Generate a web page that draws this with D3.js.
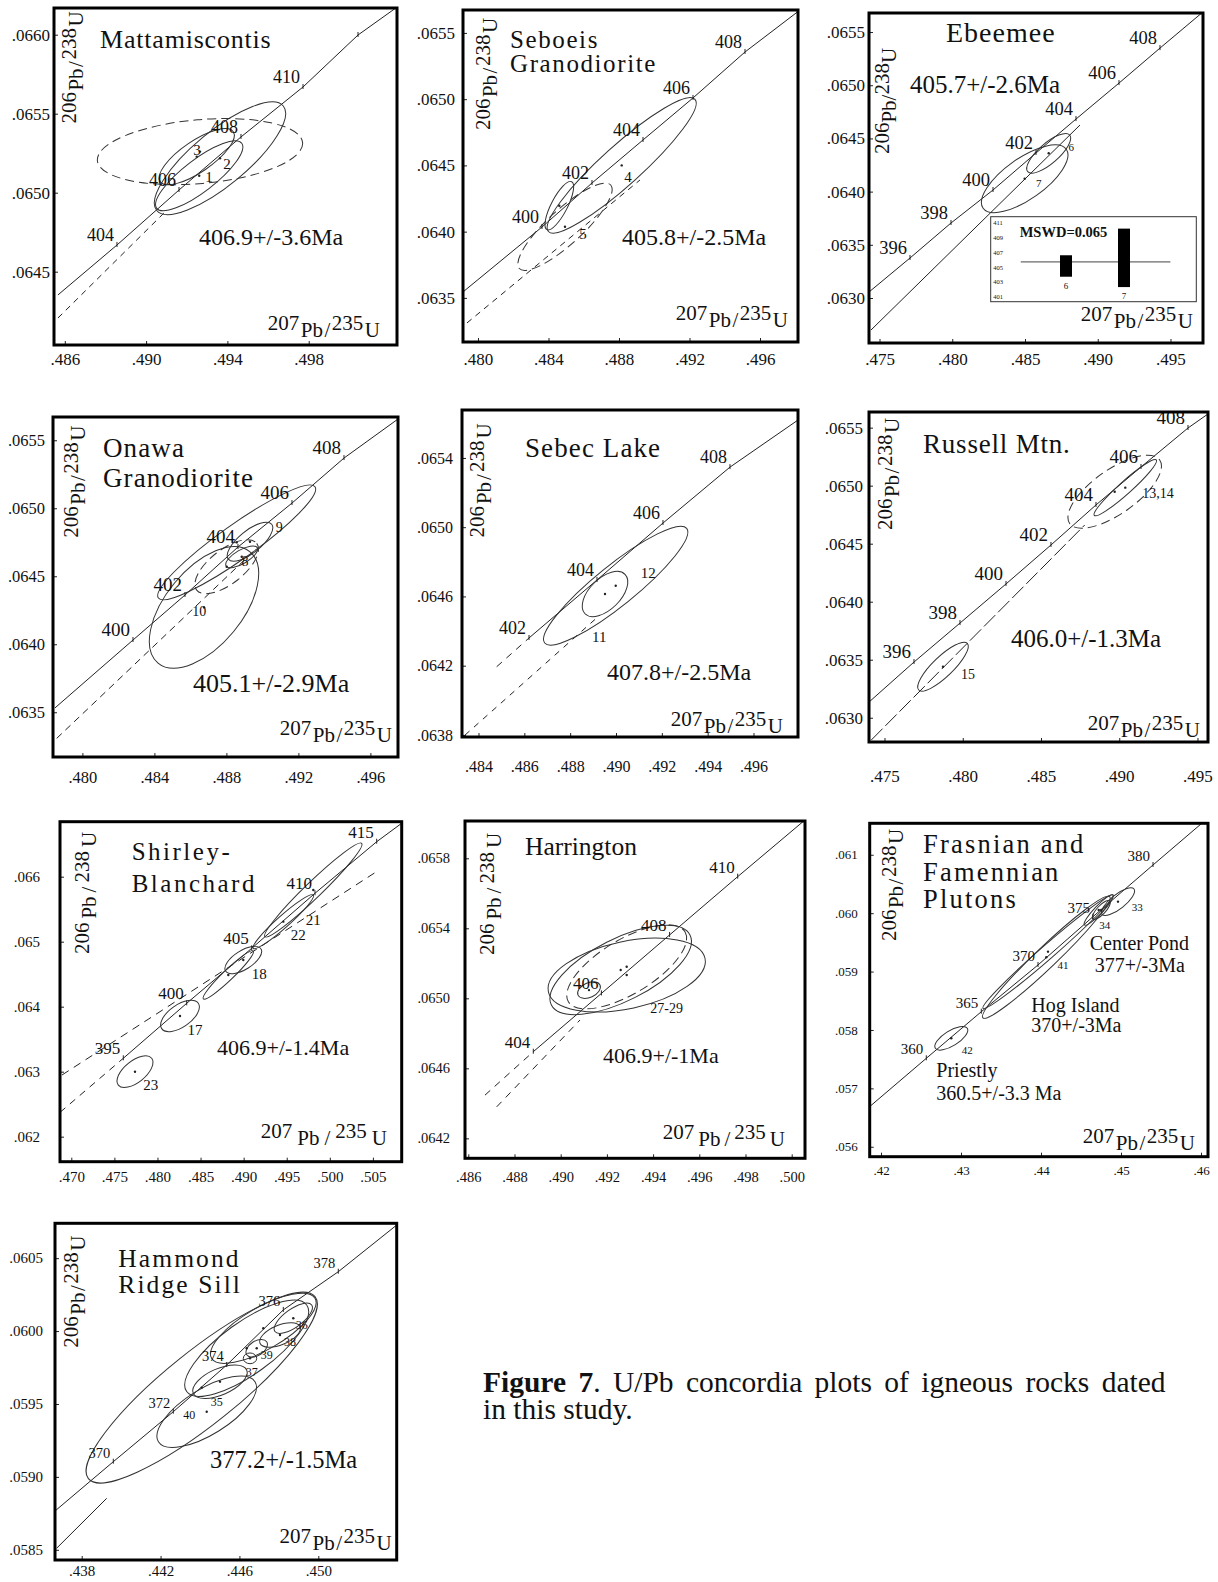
<!DOCTYPE html>
<html>
<head>
<meta charset="utf-8">
<script src="https://cdn.jsdelivr.net/npm/d3@7"></script>
<style>
  body { margin: 0; background: #fff; }
  svg text { font-family: "Liberation Serif", "Times New Roman", serif; fill: #111; }
</style>
</head>
<body>
<svg id="fig" width="1218" height="1582"></svg>
<script>
// ---------------- data ----------------
// concordia points: [age Ma, 207Pb/235U, 206Pb/238U]
// ellipses: [cx, cy, tipX, tipY, minor/major]
// labels: [text, x, y]

// Mattamiscontis
const mattaTitle = ["Mattamiscontis"];
const mattaAge = ["406.9+/-3.6Ma"];
const mattaXDomain = [0.485469, 0.502344];
const mattaYDomain = [0.064036, 0.066169];
const mattaXTicks = [0.486, 0.490, 0.494, 0.498];
const mattaYTicks = [0.0645, 0.0650, 0.0655, 0.0660];
const mattaConcordia = [[404, 0.488568, 0.064669], [406, 0.491619, 0.065017], [408, 0.494669, 0.065353], [410, 0.49772, 0.065669], [412, 0.500426, 0.065998]];
const mattaConcordiaEnds = [[0.485665, 0.064353], [0.502492, 0.066188]];
const mattaEnvelope = [[0.485665, 0.064207], [0.49093, 0.064878]];
const mattaEllipses = [
  [0.493636, 0.065218, 0.49675, 0.065549, 0.33],
  [0.492613, 0.065107, 0.494704, 0.065313, 0.3],
  [0.492652, 0.06526, 0.4977, 0.065317, 0.31],
  [0.49249, 0.065228, 0.49429, 0.065386, 0.35]
];
const mattaLabels = [["3", 0.492504, 0.065271], ["2", 0.49398, 0.065182], ["1", 0.493095, 0.0651]];

// Seboeis Granodiorite
const seboeisTitle = ["Seboeis", "Granodiorite"];
const seboeisAge = ["405.8+/-2.5Ma"];
const seboeisXDomain = [0.479149, 0.498156];
const seboeisYDomain = [0.063167, 0.065673];
const seboeisXTicks = [0.480, 0.484, 0.488, 0.492, 0.496];
const seboeisYTicks = [0.0635, 0.0640, 0.0645, 0.0650, 0.0655];
const seboeisConcordia = [[400, 0.483631, 0.064035], [402, 0.486468, 0.064367], [404, 0.489362, 0.064692], [406, 0.492199, 0.065009], [408, 0.495149, 0.065356]];
const seboeisConcordiaEnds = [[0.479149, 0.063545], [0.49827, 0.065673]];
const seboeisEnvelope = [[0.479376, 0.063311], [0.489191, 0.06439]];
const seboeisEllipses = [
  [0.488153, 0.0645, 0.492312, 0.064999, 0.2],
  [0.484936, 0.064037, 0.487529, 0.064352, 0.28],
  [0.484613, 0.064196, 0.485316, 0.064377, 0.3]
];
const seboeisLabels = [["4", 0.488511, 0.064412], ["5", 0.485957, 0.063982]];

// Ebeemee
const ebeemeeTitle = ["Ebeemee"];
const ebeemeeAge = ["405.7+/-2.6Ma"];
const ebeemeeXDomain = [0.474278, 0.497234];
const ebeemeeYDomain = [0.062577, 0.065679];
const ebeemeeXTicks = [0.475, 0.480, 0.485, 0.490, 0.495];
const ebeemeeYTicks = [0.0630, 0.0635, 0.0640, 0.0645, 0.0650, 0.0655];
const ebeemeeConcordia = [[396, 0.477096, 0.063376], [398, 0.479914, 0.063705], [400, 0.482801, 0.064015], [402, 0.485756, 0.064363], [404, 0.488505, 0.064682], [406, 0.49146, 0.06502], [408, 0.494278, 0.065349]];
const ebeemeeConcordiaEnds = [[0.474278, 0.063056], [0.497234, 0.065689]];
const ebeemeeEnvelope = [[0.474416, 0.062699], [0.48878, 0.064626]];
const ebeemeeEllipses = [
  [0.486629, 0.06436, 0.488072, 0.064532, 0.36],
  [0.484979, 0.064121, 0.487838, 0.064398, 0.4]
];
const ebeemeeLabels = [["6", 0.488182, 0.064422], ["7", 0.485942, 0.064084]];
const ebeemeeInsetTicks = [401, 403, 405, 407, 409, 411];
const ebeemeeInsetBars = [["6", 403.7, 406.6], ["7", 402.3, 410.2]];
const ebeemeeInsetMean = 405.7;
const ebeemeeMswd = "MSWD=0.065";

// Onawa Granodiorite
const onawaTitle = ["Onawa", "Granodiorite"];
const onawaAge = ["405.1+/-2.9Ma"];
const onawaXDomain = [0.478367, 0.497533];
const onawaYDomain = [0.063171, 0.065671];
const onawaXTicks = [0.480, 0.484, 0.488, 0.492, 0.496];
const onawaYTicks = [0.0635, 0.0640, 0.0645, 0.0650, 0.0655];
const onawaConcordia = [[400, 0.482811, 0.064031], [402, 0.4857, 0.064362], [404, 0.488644, 0.064715], [406, 0.491644, 0.065038], [408, 0.494533, 0.065369]];
const onawaConcordiaEnds = [[0.478478, 0.063532], [0.497533, 0.065656]];
const onawaEnvelope = [[0.478572, 0.063308], [0.489683, 0.064705]];
const onawaEllipses = [
  [0.486756, 0.064271, 0.489311, 0.06468, 0.53],
  [0.48885, 0.064643, 0.489717, 0.06471, 0.38],
  [0.489311, 0.064754, 0.490517, 0.064882, 0.4],
  [0.488572, 0.064749, 0.492922, 0.065158, 0.18],
  [0.488017, 0.06457, 0.489683, 0.064742, 0.45]
];
const onawaLabels = [["9", 0.490939, 0.064857], ["8", 0.489033, 0.064612], ["10", 0.486494, 0.064239]];

// Sebec Lake
const sebecTitle = ["Sebec Lake"];
const sebecAge = ["407.8+/-2.5Ma"];
const sebecXDomain = [0.48328, 0.497942];
const sebecYDomain = [0.063788, 0.065677];
const sebecXTicks = [0.484, 0.486, 0.488, 0.490, 0.492, 0.494, 0.496];
const sebecYTicks = [0.0638, 0.0642, 0.0646, 0.0650, 0.0654];
const sebecConcordia = [[402, 0.486204, 0.06436], [404, 0.489171, 0.064695], [406, 0.492051, 0.065024], [408, 0.494974, 0.065347]];
const sebecConcordiaEnds = [[0.484794, 0.064194], [0.497942, 0.065619]];
const sebecEnvelope = [[0.483411, 0.063799], [0.489302, 0.064493]];
const sebecEllipses = [
  [0.489987, 0.064662, 0.493085, 0.064993, 0.22],
  [0.48952, 0.064614, 0.490393, 0.064728, 0.55]
];
const sebecLabels = [["12", 0.491409, 0.064733], ["11", 0.489271, 0.064367]];

// Russell Mtn.
const russellTitle = ["Russell Mtn."];
const russellAge = ["406.0+/-1.3Ma"];
const russellXDomain = [0.47401, 0.495671];
const russellYDomain = [0.062791, 0.065635];
const russellXTicks = [0.475, 0.480, 0.485, 0.490, 0.495];
const russellYTicks = [0.0630, 0.0635, 0.0640, 0.0645, 0.0650, 0.0655];
const russellConcordia = [[396, 0.476885, 0.06348], [398, 0.479824, 0.063816], [400, 0.482764, 0.064153], [402, 0.485639, 0.064489], [404, 0.488514, 0.064834], [406, 0.49139, 0.065161], [408, 0.494393, 0.065497]];
const russellConcordiaEnds = [[0.47401, 0.063135], [0.495671, 0.065618]];
const russellEnvelope = [[0.474157, 0.062808], [0.487792, 0.064661]];
const russellEllipses = [
  [0.478738, 0.06344, 0.480291, 0.063641, 0.3],
  [0.489709, 0.064948, 0.492585, 0.065222, 0.4],
  [0.490387, 0.064983, 0.492367, 0.065222, 0.15]
];
const russellLabels = [["13,14", 0.492476, 0.064934], ["15", 0.480335, 0.063374]];

// Shirley-Blanchard
const shirleyTitle = ["Shirley-", "Blanchard"];
const shirleyAge = ["406.9+/-1.4Ma"];
const shirleyXDomain = [0.468688, 0.508343];
const shirleyYDomain = [0.061615, 0.066846];
const shirleyXTicks = [0.470, 0.475, 0.480, 0.485, 0.490, 0.495, 0.500, 0.505];
const shirleyYTicks = [0.062, 0.063, 0.064, 0.065, 0.066];
const shirleyConcordia = [[395, 0.476034, 0.063206], [400, 0.483392, 0.064052], [405, 0.490935, 0.064898], [410, 0.498281, 0.065745], [415, 0.505441, 0.066538]];
const shirleyConcordiaEnds = [[0.468688, 0.062374], [0.508343, 0.066822]];
const shirleyEnvelope = [[0.468921, 0.062949], [0.50536, 0.066072]];
const shirleyEllipses = [
  [0.477392, 0.063, 0.47933, 0.063206, 0.5],
  [0.482614, 0.063857, 0.484738, 0.064052, 0.5],
  [0.48996, 0.064718, 0.492014, 0.064888, 0.45],
  [0.498084, 0.065795, 0.5037, 0.066514, 0.12],
  [0.494602, 0.065308, 0.498084, 0.065718, 0.15],
  [0.48822, 0.064488, 0.49112, 0.064857, 0.15]
];
const shirleyLabels = [["21", 0.498084, 0.065334], ["22", 0.496343, 0.065103], ["18", 0.491817, 0.064498], ["17", 0.484355, 0.063642], ["23", 0.479214, 0.062795]];

// Harrington
const harringtonTitle = ["Harrington"];
const harringtonAge = ["406.9+/-1Ma"];
const harringtonXDomain = [0.485857, 0.500576];
const harringtonYDomain = [0.064086, 0.066013];
const harringtonXTicks = [0.486, 0.488, 0.490, 0.492, 0.494, 0.496, 0.498, 0.500];
const harringtonYTicks = [0.0642, 0.0646, 0.0650, 0.0654, 0.0658];
const harringtonConcordia = [[404, 0.488814, 0.064695], [406, 0.491762, 0.065028], [408, 0.494714, 0.065362], [410, 0.497662, 0.065695]];
const harringtonConcordiaEnds = [[0.486723, 0.064447], [0.500576, 0.066019]];
const harringtonEnvelope = [[0.487229, 0.06438], [0.490835, 0.064876]];
const harringtonEllipses = [
  [0.492857, 0.065133, 0.496247, 0.065229, 0.42],
  [0.492597, 0.065162, 0.495597, 0.065362, 0.4],
  [0.492857, 0.06518, 0.495381, 0.06538, 0.4],
  [0.491225, 0.065047, 0.491701, 0.065076, 0.6]
];
const harringtonLabels = [["27-29", 0.494589, 0.064943]];

// Frasnian and Famennian Plutons
const frasnianTitle = ["Frasnian and", "Famennian", "Plutons"];
const frasnianAge = ["Center Pond", "377+/-3Ma", "Hog Island", "370+/-3Ma", "Priestly", "360.5+/-3.3 Ma"];
const frasnianXDomain = [0.418587, 0.460875];
const frasnianYDomain = [0.05583, 0.061539];
const frasnianXTicks = [0.42, 0.43, 0.44, 0.45, 0.46];
const frasnianYTicks = [0.056, 0.057, 0.058, 0.059, 0.060, 0.061];
const frasnianConcordia = [[360, 0.425663, 0.057515], [365, 0.432538, 0.058313], [370, 0.439625, 0.059113], [375, 0.4465, 0.05994], [380, 0.454, 0.060825]];
const frasnianConcordiaEnds = [[0.418587, 0.056688], [0.460875, 0.06163]];
const frasnianEnvelope = [];
const frasnianEllipses = [
  [0.428788, 0.057858, 0.430788, 0.058029, 0.4],
  [0.440663, 0.059245, 0.448588, 0.060283, 0.12],
  [0.440875, 0.059341, 0.449, 0.060312, 0.08],
  [0.449625, 0.060197, 0.451625, 0.060414, 0.35],
  [0.447538, 0.060055, 0.448588, 0.060209, 0.35],
  [0.447213, 0.060055, 0.449, 0.060312, 0.2]
];
const frasnianLabels = [["33", 0.452038, 0.060111], ["34", 0.447963, 0.059798], ["41", 0.44275, 0.059113], ["42", 0.430788, 0.057658]];

// Hammond Ridge Sill
const hammondTitle = ["Hammond", "Ridge Sill"];
const hammondAge = ["377.2+/-1.5Ma"];
const hammondXDomain = [0.436646, 0.453976];
const hammondYDomain = [0.05843, 0.060739];
const hammondXTicks = [0.438, 0.442, 0.446, 0.450];
const hammondYTicks = [0.0585, 0.0590, 0.0595, 0.0600, 0.0605];
const hammondConcordia = [[370, 0.439603, 0.059104], [372, 0.442646, 0.059447], [374, 0.445354, 0.059767], [376, 0.448225, 0.060145], [378, 0.451014, 0.060407]];
const hammondConcordiaEnds = [[0.436646, 0.058766], [0.453976, 0.060727]];
const hammondEnvelope = [[0.436732, 0.058511], [0.439268, 0.058853]];
const hammondEllipses = [
  [0.444086, 0.059612, 0.449833, 0.060236, 0.25],
  [0.44434, 0.059447, 0.446789, 0.059653, 0.4],
  [0.445014, 0.059653, 0.446368, 0.059733, 0.45],
  [0.446368, 0.059882, 0.449412, 0.060179, 0.35],
  [0.448732, 0.060088, 0.449665, 0.060179, 0.4],
  [0.448057, 0.059973, 0.449072, 0.06003, 0.45],
  [0.446876, 0.059882, 0.447383, 0.059927, 0.6],
  [0.446536, 0.059813, 0.446876, 0.059813, 0.8],
  [0.44721, 0.060019, 0.449833, 0.060225, 0.35]
];
const hammondLabels = [["36", 0.449158, 0.060042], ["38", 0.448565, 0.059927], ["39", 0.447383, 0.059836], ["37", 0.446622, 0.059721], ["35", 0.444847, 0.059516], ["40", 0.443457, 0.059425]];

const isoXLabel = [["207", 1], ["Pb", 0], ["/", 0], ["235", 1], ["U", 0]];
const isoYLabel = [["206", 1], ["Pb", 0], ["/", 0], ["238", 1], ["U", 0]];
const captionBold = "Figure 7";
const captionLines = [". U/Pb concordia plots of igneous rocks dated", "in this study."];

// ---------------- layout (pixels, fonts, styles) ----------------
const layout = [
  { frame: [54, 8, 397, 345], tickFont: 17, xDec: 3, yDec: 4, xLabDy: 14, yLabGap: 4,
    title: { x: 100, y: 48, size: 26, lh: 0, ls: 0.8 }, age: [{ x: 199, y: 245, size: 24 }],
    xLab: { x: 380, y: 337, gap: 1.5 }, yLab: { x: 83, y: 67.5, gap: 1.5 },
    concFont: 18, ellFont: 15, envDash: "6,5", dashEll: [2], lowDash: false, hide: [412] },
  { frame: [463, 10, 798, 342], tickFont: 17, xDec: 3, yDec: 4, xLabDy: 17, yLabGap: 8,
    title: { x: 510, y: 48, size: 25, lh: 24, ls: 1.6 }, age: [{ x: 622, y: 245, size: 24 }],
    xLab: { x: 788, y: 327, gap: 1.5 }, yLab: { x: 497, y: 74, gap: 1.5 },
    concFont: 18, ellFont: 15, envDash: "6,5", dashEll: [1], lowDash: false, hide: [] },
  { frame: [869, 13, 1203, 343], tickFont: 17, xDec: 3, yDec: 4, xLabDy: 16, yLabGap: 4,
    title: { x: 946, y: 42, size: 28, lh: 0, ls: 1 }, age: [{ x: 910, y: 93, size: 25 }],
    xLab: { x: 1193, y: 328, gap: 1.5 }, yLab: { x: 896, y: 101, gap: 0 },
    concFont: 18.5, ellFont: 11, envDash: null, dashEll: [], lowDash: false, hide: [],
    inset: { box: [990.7, 216.7, 1196.3, 301.7], yRange: [296.7, 222.7], xRange: [1066, 1124], meanFrom: -0.78, meanTo: 1.8, barW: 12 } },
  { frame: [53, 417, 398, 757], tickFont: 16.5, xDec: 3, yDec: 4, xLabDy: 21, yLabGap: 8,
    title: { x: 103, y: 456.7, size: 27, lh: 30, ls: 1.1 }, age: [{ x: 193, y: 691.7, size: 26 }],
    xLab: { x: 392, y: 742, gap: 1.5 }, yLab: { x: 85, y: 481.7, gap: 1.5 },
    concFont: 19, ellFont: 14, envDash: "7,5", dashEll: [4], lowDash: false, hide: [] },
  { frame: [462, 410, 798, 737], tickFont: 16, xDec: 3, yDec: 4, xLabDy: 30, yLabGap: 9,
    title: { x: 525, y: 456.7, size: 27, lh: 0, ls: 1.1 }, age: [{ x: 607, y: 680, size: 24 }],
    xLab: { x: 783, y: 733, gap: 1.5 }, yLab: { x: 491, y: 480.5, gap: 2 },
    concFont: 18, ellFont: 15, envDash: "6,6", dashEll: [], lowDash: true, hide: [] },
  { frame: [869, 412, 1208, 742], tickFont: 17, xDec: 3, yDec: 4, xLabDy: 34, yLabGap: 6,
    title: { x: 923, y: 453.3, size: 27, lh: 0, ls: 0.8 }, age: [{ x: 1011, y: 646.7, size: 25 }],
    xLab: { x: 1200, y: 737, gap: 1.5 }, yLab: { x: 899, y: 474, gap: 1.5 },
    concFont: 19, ellFont: 14, envDash: "16,4", dashEll: [1], lowDash: false, hide: [] },
  { frame: [60, 821.7, 401.7, 1161.7], tickFont: 15, xDec: 3, yDec: 3, xLabDy: 15, yLabGap: 20,
    title: { x: 131.7, y: 860, size: 25, lh: 31.7, ls: 2.5 }, age: [{ x: 217, y: 1055, size: 22 }],
    xLab: { x: 387, y: 1145, gap: 5 }, yLab: { x: 96, y: 893, gap: 4 },
    concFont: 17, ellFont: 15, envDash: "8,6", dashEll: [], lowDash: true, hide: [] },
  { frame: [465, 821, 805, 1158.3], tickFont: 14.5, xDec: 3, yDec: 4, xLabDy: 19, yLabGap: 15,
    title: { x: 525, y: 855, size: 25.5, lh: 0, ls: 0 }, age: [{ x: 603, y: 1063.3, size: 22 }],
    xLab: { x: 785, y: 1146, gap: 4 }, yLab: { x: 501, y: 894, gap: 4 },
    concFont: 17, ellFont: 14, envDash: "7,6", dashEll: [2], lowDash: true, hide: [] },
  { frame: [869.7, 823.3, 1208, 1156.7], tickFont: 13, xDec: 2, yDec: 3, xLabDy: 14, yLabGap: 12,
    title: { x: 923, y: 853.3, size: 26.5, lh: 27.5, ls: 2.2 },
    age: [{ x: 1089.7, y: 950, size: 20 }, { x: 1094.7, y: 971.7, size: 20 }, { x: 1031.3, y: 1011.7, size: 20 },
          { x: 1031.3, y: 1032.2, size: 20 }, { x: 936.3, y: 1076.7, size: 20 }, { x: 936.3, y: 1100, size: 20 }],
    xLab: { x: 1195, y: 1150, gap: 1.5 }, yLab: { x: 903, y: 885, gap: 1.5 },
    concFont: 15, ellFont: 11, envDash: null, dashEll: [], lowDash: false, hide: [] },
  { frame: [55, 1223.3, 396.7, 1560], tickFont: 15, xDec: 3, yDec: 4, xLabDy: 11, yLabGap: 12,
    title: { x: 118.3, y: 1266.7, size: 25.5, lh: 26.6, ls: 2.1 }, age: [{ x: 210, y: 1468.3, size: 24.5 }],
    xLab: { x: 391.7, y: 1550, gap: 1.5 }, yLab: { x: 85, y: 1291.7, gap: 1.5 },
    concFont: 14.5, ellFont: 12, envDash: null, dashEll: [], lowDash: false, hide: [] }
];

const panels = [
  { title: mattaTitle, age: mattaAge, xDomain: mattaXDomain, yDomain: mattaYDomain, xTicks: mattaXTicks, yTicks: mattaYTicks, conc: mattaConcordia, ends: mattaConcordiaEnds, env: mattaEnvelope, ell: mattaEllipses, labels: mattaLabels },
  { title: seboeisTitle, age: seboeisAge, xDomain: seboeisXDomain, yDomain: seboeisYDomain, xTicks: seboeisXTicks, yTicks: seboeisYTicks, conc: seboeisConcordia, ends: seboeisConcordiaEnds, env: seboeisEnvelope, ell: seboeisEllipses, labels: seboeisLabels },
  { title: ebeemeeTitle, age: ebeemeeAge, xDomain: ebeemeeXDomain, yDomain: ebeemeeYDomain, xTicks: ebeemeeXTicks, yTicks: ebeemeeYTicks, conc: ebeemeeConcordia, ends: ebeemeeConcordiaEnds, env: ebeemeeEnvelope, ell: ebeemeeEllipses, labels: ebeemeeLabels },
  { title: onawaTitle, age: onawaAge, xDomain: onawaXDomain, yDomain: onawaYDomain, xTicks: onawaXTicks, yTicks: onawaYTicks, conc: onawaConcordia, ends: onawaConcordiaEnds, env: onawaEnvelope, ell: onawaEllipses, labels: onawaLabels },
  { title: sebecTitle, age: sebecAge, xDomain: sebecXDomain, yDomain: sebecYDomain, xTicks: sebecXTicks, yTicks: sebecYTicks, conc: sebecConcordia, ends: sebecConcordiaEnds, env: sebecEnvelope, ell: sebecEllipses, labels: sebecLabels },
  { title: russellTitle, age: russellAge, xDomain: russellXDomain, yDomain: russellYDomain, xTicks: russellXTicks, yTicks: russellYTicks, conc: russellConcordia, ends: russellConcordiaEnds, env: russellEnvelope, ell: russellEllipses, labels: russellLabels },
  { title: shirleyTitle, age: shirleyAge, xDomain: shirleyXDomain, yDomain: shirleyYDomain, xTicks: shirleyXTicks, yTicks: shirleyYTicks, conc: shirleyConcordia, ends: shirleyConcordiaEnds, env: shirleyEnvelope, ell: shirleyEllipses, labels: shirleyLabels },
  { title: harringtonTitle, age: harringtonAge, xDomain: harringtonXDomain, yDomain: harringtonYDomain, xTicks: harringtonXTicks, yTicks: harringtonYTicks, conc: harringtonConcordia, ends: harringtonConcordiaEnds, env: harringtonEnvelope, ell: harringtonEllipses, labels: harringtonLabels },
  { title: frasnianTitle, age: frasnianAge, xDomain: frasnianXDomain, yDomain: frasnianYDomain, xTicks: frasnianXTicks, yTicks: frasnianYTicks, conc: frasnianConcordia, ends: frasnianConcordiaEnds, env: frasnianEnvelope, ell: frasnianEllipses, labels: frasnianLabels },
  { title: hammondTitle, age: hammondAge, xDomain: hammondXDomain, yDomain: hammondYDomain, xTicks: hammondXTicks, yTicks: hammondYTicks, conc: hammondConcordia, ends: hammondConcordiaEnds, env: hammondEnvelope, ell: hammondEllipses, labels: hammondLabels }
];

// ---------------- drawing ----------------
const svg = d3.select('#fig');
svg.append('rect').attr('width', 1218).attr('height', 1582).attr('fill', '#fff');

const INK = '#222';
const fmtTick = (dec) => (v) => d3.format(`.${dec}f`)(v).replace(/^0/, '');

// isotope ratio label with raised mass numbers
function isoText(parent, parts, size, gap) {
  const t = parent.append('text').attr('font-size', size);
  let raised = false;
  parts.forEach((pt, k) => {
    const r = pt[1] === 1;
    const dy = (r && !raised) ? -0.32 * size : (!r && raised) ? 0.32 * size : 0;
    t.append('tspan').attr('dx', k ? gap : 0).attr('dy', dy).text(pt[0]);
    raised = r;
  });
  return t;
}

panels.forEach((p, i) => {
  const L = layout[i];
  const [x0, y0, x1, y1] = L.frame;
  const xs = d3.scaleLinear().domain(p.xDomain).range([x0, x1]);
  const ys = d3.scaleLinear().domain(p.yDomain).range([y1, y0]);
  const g = svg.append('g').attr('class', `panel-${i}`);

  g.append('clipPath').attr('id', `clip-${i}`)
    .append('rect').attr('x', x0).attr('y', y0).attr('width', x1 - x0).attr('height', y1 - y0);
  const plot = g.append('g').attr('clip-path', `url(#clip-${i})`);

  const line = d3.line().x(d => xs(d[0])).y(d => ys(d[1]));

  // lower reference line / error envelope
  if (p.env.length) {
    plot.append('path')
      .attr('d', line(p.env))
      .attr('fill', 'none')
      .attr('stroke', INK)
      .attr('stroke-width', 1)
      .attr('stroke-dasharray', L.envDash);
  }

  // concordia
  const concPts = p.conc.map(d => [d[1], d[2]]);
  if (L.lowDash) {
    plot.append('path').attr('d', line([p.ends[0], concPts[0]]))
      .attr('fill', 'none').attr('stroke', INK).attr('stroke-width', 1).attr('stroke-dasharray', '7,6');
    plot.append('path').attr('d', line([...concPts, p.ends[1]]))
      .attr('fill', 'none').attr('stroke', INK).attr('stroke-width', 1);
  } else {
    plot.append('path').attr('d', line([p.ends[0], ...concPts, p.ends[1]]))
      .attr('fill', 'none').attr('stroke', INK).attr('stroke-width', 1);
  }

  // error ellipses
  plot.selectAll('ellipse.err')
    .data(p.ell)
    .join('ellipse')
    .attr('class', 'err')
    .each(function (d, k) {
      const cx = xs(d[0]), cy = ys(d[1]);
      const tx = xs(d[2]), ty = ys(d[3]);
      const a = Math.hypot(tx - cx, ty - cy);
      const ang = Math.atan2(ty - cy, tx - cx) * 180 / Math.PI;
      d3.select(this)
        .attr('cx', cx).attr('cy', cy)
        .attr('rx', a).attr('ry', a * d[4])
        .attr('transform', `rotate(${ang},${cx},${cy})`)
        .attr('fill', 'none')
        .attr('stroke', '#333')
        .attr('stroke-width', 1)
        .attr('stroke-dasharray', L.dashEll.includes(k) ? '9,5' : null);
    });

  plot.selectAll('circle.pt')
    .data(p.ell)
    .join('circle')
    .attr('class', 'pt')
    .attr('cx', d => xs(d[0]))
    .attr('cy', d => ys(d[1]))
    .attr('r', 1.2)
    .attr('fill', INK);

  // concordia age ticks and labels
  const ticks = g.append('g');
  ticks.selectAll('line')
    .data(p.conc)
    .join('line')
    .attr('x1', d => xs(d[1])).attr('x2', d => xs(d[1]))
    .attr('y1', d => ys(d[2]) - 3).attr('y2', d => ys(d[2]) + 2)
    .attr('stroke', INK).attr('stroke-width', 1);
  ticks.selectAll('text')
    .data(p.conc.filter(d => !L.hide.includes(d[0])))
    .join('text')
    .attr('x', d => xs(d[1]) - 3)
    .attr('y', d => ys(d[2]) - 4)
    .attr('text-anchor', 'end')
    .attr('font-size', L.concFont)
    .text(d => d[0]);

  // ellipse (analysis) labels
  g.append('g').selectAll('text')
    .data(p.labels)
    .join('text')
    .attr('x', d => xs(d[1]))
    .attr('y', d => ys(d[2]))
    .attr('text-anchor', 'middle')
    .attr('dominant-baseline', 'central')
    .attr('font-size', L.ellFont)
    .text(d => d[0]);

  // inset (weighted mean plot)
  if (L.inset) {
    const I = L.inset;
    const [bx0, by0, bx1, by1] = I.box;
    const iy = d3.scaleLinear().domain([401, 411]).range(I.yRange);
    const ix = d3.scaleLinear().domain([0, 1]).range(I.xRange);
    const ig = g.append('g');
    ig.append('rect').attr('x', bx0).attr('y', by0).attr('width', bx1 - bx0).attr('height', by1 - by0)
      .attr('fill', '#fff').attr('stroke', '#333').attr('stroke-width', 1);
    ig.selectAll('text.itk').data(ebeemeeInsetTicks).join('text').attr('class', 'itk')
      .attr('x', bx0 + 2.5).attr('y', d => iy(d)).attr('dominant-baseline', 'central')
      .attr('font-size', 6.5).text(d => d);
    ig.append('line')
      .attr('x1', ix(I.meanFrom)).attr('x2', ix(I.meanTo))
      .attr('y1', iy(ebeemeeInsetMean)).attr('y2', iy(ebeemeeInsetMean))
      .attr('stroke', '#444').attr('stroke-width', 1);
    ig.selectAll('rect.bar').data(ebeemeeInsetBars).join('rect').attr('class', 'bar')
      .attr('x', (d, k) => ix(k) - I.barW / 2)
      .attr('width', I.barW)
      .attr('y', d => iy(d[2]))
      .attr('height', d => iy(d[1]) - iy(d[2]))
      .attr('fill', '#000');
    ig.selectAll('text.blab').data(ebeemeeInsetBars).join('text').attr('class', 'blab')
      .attr('x', (d, k) => ix(k)).attr('y', d => iy(d[1]) + 9)
      .attr('text-anchor', 'middle').attr('dominant-baseline', 'central')
      .attr('font-size', 9).text(d => d[0]);
    ig.append('text').attr('x', bx0 + 29).attr('y', by0 + 20.5)
      .attr('font-size', 14.5).attr('font-weight', 'bold').text(ebeemeeMswd);
  }

  // axes (inward ticks, labels outside frame)
  const xAxis = d3.axisBottom(xs)
    .tickValues(p.xTicks)
    .tickFormat(fmtTick(L.xDec))
    .tickSizeInner(-4).tickSizeOuter(0)
    .tickPadding(L.xLabDy - 0.38 * L.tickFont);
  const gx = g.append('g').attr('transform', `translate(0,${y1})`).call(xAxis);
  const yAxis = d3.axisLeft(ys)
    .tickValues(p.yTicks)
    .tickFormat(fmtTick(L.yDec))
    .tickSizeInner(-4).tickSizeOuter(0)
    .tickPadding(L.yLabGap);
  const gy = g.append('g').attr('transform', `translate(${x0},0)`).call(yAxis);
  [gx, gy].forEach(ax => {
    ax.select('.domain').remove();
    ax.selectAll('line').attr('stroke', INK);
    ax.selectAll('text')
      .attr('font-family', '"Liberation Serif", "Times New Roman", serif')
      .attr('font-size', L.tickFont)
      .attr('fill', '#111');
  });

  // frame
  g.append('rect')
    .attr('x', x0).attr('y', y0)
    .attr('width', x1 - x0).attr('height', y1 - y0)
    .attr('fill', 'none').attr('stroke', '#000').attr('stroke-width', 3);

  // title (one text per line)
  p.title.forEach((s, k) => {
    g.append('text')
      .attr('x', L.title.x).attr('y', L.title.y + k * L.title.lh)
      .attr('font-size', L.title.size)
      .attr('letter-spacing', L.title.ls || 0)
      .text(s);
  });

  // age annotations
  p.age.forEach((s, k) => {
    const a = L.age[k];
    g.append('text').attr('x', a.x).attr('y', a.y).attr('font-size', a.size).text(s);
  });

  // axis titles
  isoText(g, isoXLabel, 21, L.xLab.gap)
    .attr('x', L.xLab.x).attr('y', L.xLab.y).attr('text-anchor', 'end');
  isoText(g, isoYLabel, 21, L.yLab.gap)
    .attr('text-anchor', 'middle')
    .attr('transform', `translate(${L.yLab.x},${L.yLab.y}) rotate(-90)`);
});

// caption (first line justified)
const cap = svg.append('text').attr('x', 483).attr('y', 1392).attr('font-size', 29.5).attr('word-spacing', 5);
cap.append('tspan').attr('font-weight', 'bold').text(captionBold);
cap.append('tspan').text(captionLines[0]);
svg.append('text').attr('x', 483).attr('y', 1419).attr('font-size', 29.5).text(captionLines[1]);
</script>
</body>
</html>
